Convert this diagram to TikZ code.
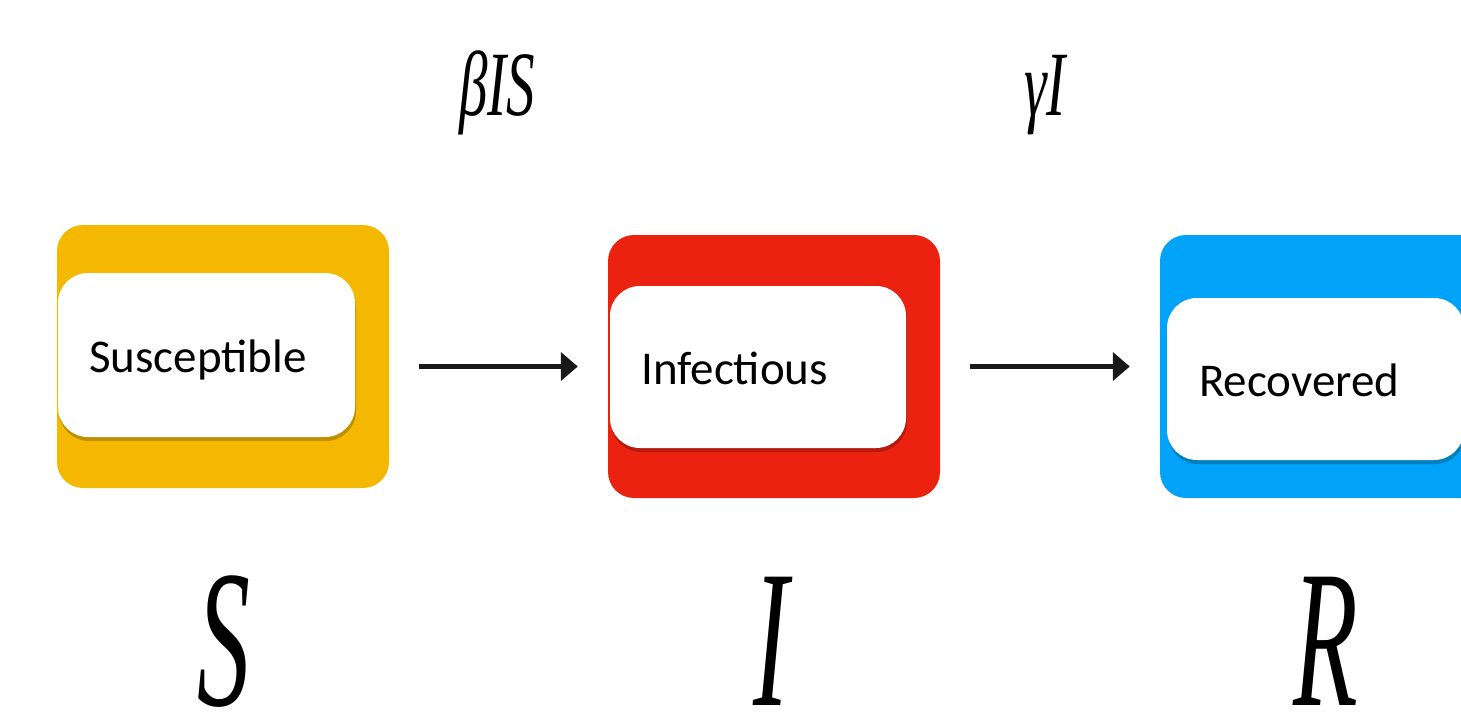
\documentclass[tikz,border=0pt]{standalone}
\usepackage{fontspec}
\setmainfont{Carlito}
\newfontfamily\timesfam{Liberation Serif}
\newcommand{\rateit}[1]{{\timesfam\itshape\fontsize{92}{100}\selectfont\scalebox{0.62}[1]{#1}}}
\newcommand{\bigit}[1]{{\timesfam\itshape\fontsize{196}{200}\selectfont\scalebox{0.54}[1]{#1}}}
\usetikzlibrary{arrows.meta}
\definecolor{ycol}{HTML}{F5B800}
\definecolor{rcol}{HTML}{EB2210}
\definecolor{bcol}{HTML}{00A3F7}
\tikzset{
  outerbox/.style={rectangle, rounded corners=26pt, minimum width=332pt, minimum height=263pt, inner sep=0pt},
  innerbox/.style={rectangle, rounded corners=30pt, fill=white, inner sep=0pt},
  shade/.style={rectangle, rounded corners=30pt, fill=black, opacity=0.22, inner sep=0pt},
  lbl/.style={font=\fontsize{47}{56}\selectfont, anchor=base west, inner sep=0pt},
  arr/.style={line width=5pt, -{Triangle[length=17pt,width=28pt]}, color=black!90},
  sym/.style={anchor=base, inner sep=0pt, text depth=0pt}
}
\begin{document}
\begin{tikzpicture}[x=1pt, y=-1pt]
\useasboundingbox (0,0) rectangle (1461,724);
\clip (0,0) rectangle (1461,724);
% outer boxes
\node[outerbox, fill=ycol] (Sbox) at (223,356.5) {};
\node[outerbox, fill=rcol] (Ibox) at (774,366.5) {};
\node[outerbox, fill=bcol] (Rbox) at (1326,366.5) {};
% shadows
\node[shade, minimum width=297pt, minimum height=164pt] (Ssh) at (207.5,359) {};
\node[shade, minimum width=296pt, minimum height=162pt] (Ish) at (759,371) {};
\node[shade, minimum width=297pt, minimum height=162pt] (Rsh) at (1316.5,383) {};
% inner boxes
\node[innerbox, minimum width=297pt, minimum height=164pt] (Sin) at (206.5,355) {};
\node[innerbox, minimum width=296pt, minimum height=162pt] (Iin) at (758,367) {};
\node[innerbox, minimum width=297pt, minimum height=162pt] (Rin) at (1315.5,379) {};
% labels
\node[lbl] (St) at (89,372) {Susceptible};
\node[lbl] (It) at (641,384) {Infectious};
\node[lbl] (Rt) at (1199,396) {Recovered};
% arrows
\draw[arr, shorten <=30pt, shorten >=30pt] (Sbox.east |- Ibox.west) -- (Ibox.west);
\draw[arr, shorten <=30pt, shorten >=30pt] (Ibox.east) -- (Rbox.west);
% rates
\node[sym] (r1) at (497,115) {\rateit{βIS}};
\node[sym] (r2) at (1045,115) {\rateit{γI}};
% compartments
\node[sym] (S) at (224,705) {\bigit{S}};
\node[sym] (I) at (771,705) {\bigit{I}};
\node[sym] (R) at (1326,705) {\bigit{R}};
\end{tikzpicture}
\end{document}
